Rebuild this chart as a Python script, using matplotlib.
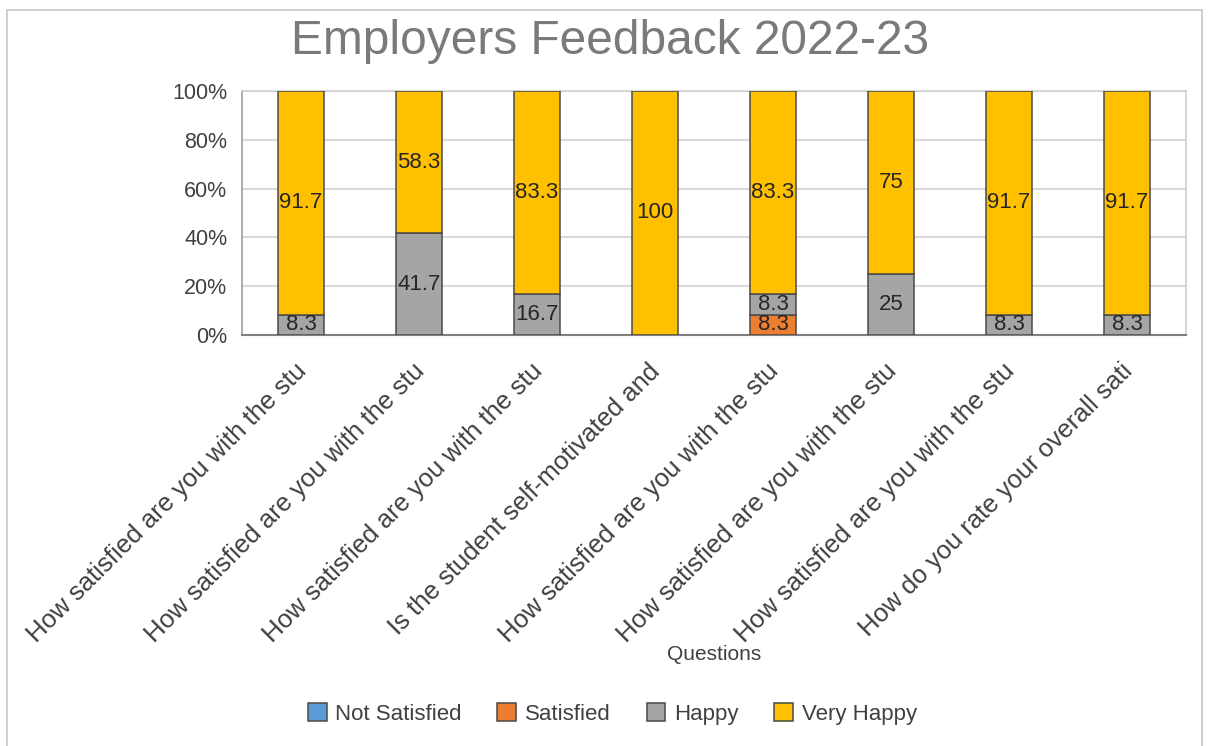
import matplotlib

matplotlib.use("Agg")
import matplotlib.pyplot as plt
import matplotlib.transforms as mtransforms
from matplotlib.patches import Rectangle
import numpy as np

# Data ------------------------------------------------------------------
questions = [
    "How satisfied are you with the stu",
    "How satisfied are you with the stu",
    "How satisfied are you with the stu",
    "Is the student self-motivated and",
    "How satisfied are you with the stu",
    "How satisfied are you with the stu",
    "How satisfied are you with the stu",
    "How do you rate your overall sati",
]
series_names = ["Not Satisfied", "Satisfied", "Happy", "Very Happy"]
not_satisfied = [0, 0, 0, 0, 0, 0, 0, 0]
satisfied = [0, 0, 0, 0, 8.3, 0, 0, 0]
happy = [8.3, 41.7, 16.7, 0, 8.3, 25, 8.3, 8.3]
very_happy = [91.7, 58.3, 83.3, 100, 83.3, 75, 91.7, 91.7]
yticks = [0, 20, 40, 60, 80, 100]

COLORS = ["#5B9BD5", "#ED7D31", "#A5A5A5", "#FFC000"]
FONT = ["Liberation Sans", "DejaVu Sans"]
plt.rcParams["font.family"] = FONT

fig = plt.figure(figsize=(12.08, 7.46), dpi=100)
ax = fig.add_axes([0.2003, 0.551, 0.7815, 0.327])

x = np.arange(len(questions))
width = 0.39
bottom = np.zeros(len(questions))
for name, vals, color in zip(series_names,
                             [not_satisfied, satisfied, happy, very_happy],
                             COLORS):
    vals = np.asarray(vals, dtype=float)
    ax.bar(x, vals, width, bottom=bottom, color=color, edgecolor="#4a4a4a",
           linewidth=1.1, label=name, zorder=3)
    for xi, b, v in zip(x, bottom, vals):
        if v > 0:
            ax.text(xi, b + v / 2, f"{v:g}", ha="center", va="center",
                    fontsize=16, color="#262626", zorder=4)
    bottom += vals

ax.set_xlim(-0.5, len(questions) - 0.5)
ax.set_ylim(0, 100)
ax.set_yticks(yticks)
ax.set_yticklabels([f"{t}%" for t in yticks], fontsize=15.5, color="#404040")
ax.tick_params(axis="y", length=0, pad=10.5)
ax.tick_params(axis="x", length=0)
ax.grid(axis="y", color="#d9d9d9", linewidth=1.5, zorder=0)

for side in ["top", "right", "left"]:
    ax.spines[side].set_color("#d0d0d0")
    ax.spines[side].set_linewidth(1.2)
ax.spines["left"].set_color("#a0a0a0")
ax.spines["bottom"].set_color("#808080")
ax.spines["bottom"].set_linewidth(1.5)

# rotated question labels
ax.set_xticks(x)
ax.set_xticklabels(questions, rotation=45, ha="right", va="center",
                   rotation_mode="anchor", fontsize=18.5, color="#404040")
offset = mtransforms.ScaledTranslation(1 / 72, -20 / 72, fig.dpi_scale_trans)
for lbl in ax.get_xticklabels():
    lbl.set_transform(lbl.get_transform() + offset)

fig.text(0.505, 0.945, "Employers Feedback 2022-23", ha="center",
         va="center", fontsize=34.5, color="#7a7a7a")
fig.text(0.591, 0.122, "Questions", ha="center", va="center",
         fontsize=15, color="#404040")

fig.legend(loc="center", bbox_to_anchor=(0.507, 0.043), ncol=4,
           frameon=False, fontsize=16, handlelength=0.85, handleheight=0.85,
           handletextpad=0.4, columnspacing=1.6,
           labelcolor="#404040")

# chart border
fig.patches.append(Rectangle((7 / 1208, -0.01), 1195 / 1208, 1 - 10 / 746 + 0.01,
                             transform=fig.transFigure, fill=False,
                             edgecolor="#c8c8c8", linewidth=1.2))

fig.savefig("out.png", dpi=100)
